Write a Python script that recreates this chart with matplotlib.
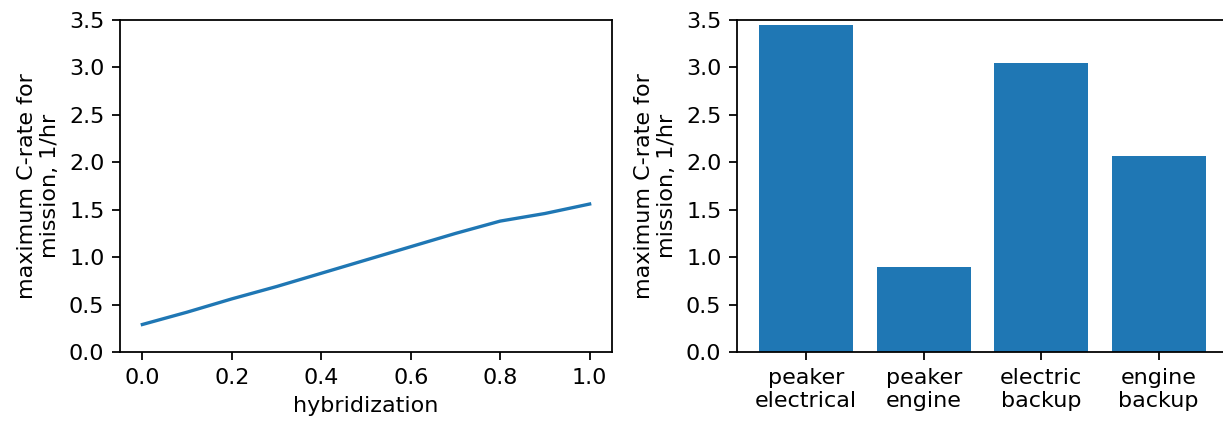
import matplotlib
matplotlib.use("Agg")
import matplotlib.pyplot as plt

# left panel: C-rate vs hybridization
hybridization = [0.0, 0.1, 0.2, 0.3, 0.4, 0.5, 0.6, 0.7, 0.8, 0.9, 1.0]
c_rate_line = [0.29, 0.42, 0.56, 0.69, 0.83, 0.97, 1.11, 1.25, 1.38, 1.46, 1.56]

# right panel: C-rate per architecture
architectures = ["peaker\nelectrical", "peaker\nengine", "electric\nbackup", "engine\nbackup"]
c_rate_bar = [3.45, 0.90, 3.05, 2.07]

ylabel = "maximum C-rate for\nmission, 1/hr"

DPI = 160
W, H = 1223, 422
fig = plt.figure(figsize=(W / DPI, H / DPI), dpi=DPI)
ax1 = fig.add_axes([120 / W, 70 / H, 492 / W, 332 / H])
ax2 = fig.add_axes([737 / W, 70 / H, 491 / W, 332 / H])

ax1.plot(hybridization, c_rate_line)
ax1.set_ylim(0, 3.5)
ax1.set_xlabel("hybridization")
ax1.set_ylabel(ylabel)

ax2.bar(architectures, c_rate_bar)
ax2.set_ylim(0, 3.5)
ax2.set_ylabel(ylabel)

fig.savefig("out.png", dpi=DPI)
